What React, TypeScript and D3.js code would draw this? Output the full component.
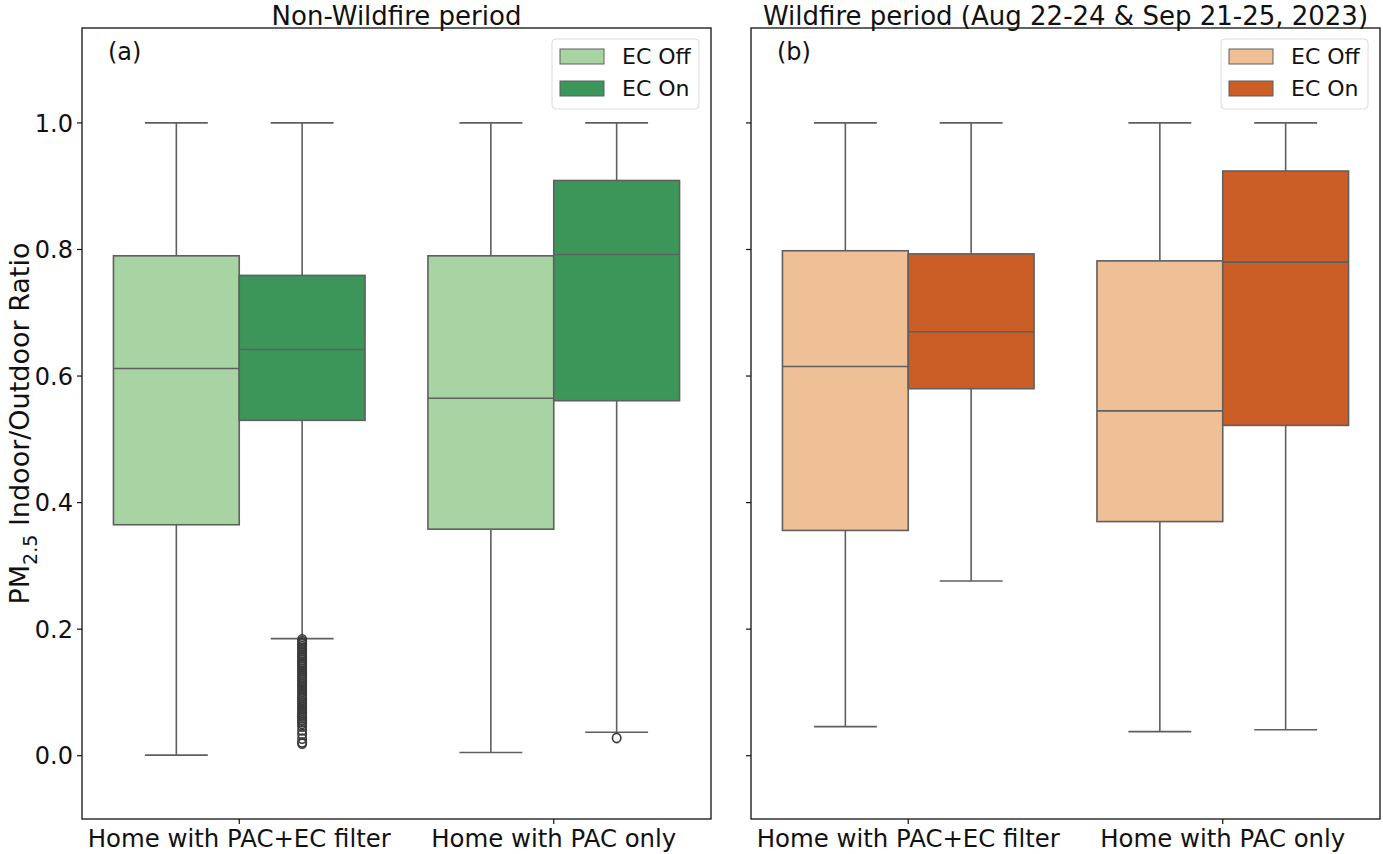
import React from "react";
import * as d3 from "d3";

// groups on the x axis and the two hue levels
const categories = ["Home with PAC+EC filter", "Home with PAC only"];
const hues = ["EC Off", "EC On"];

// box stats per category: [lower whisker, q1, median, q3, upper whisker]
const nonWildfireOff = [
  [0.001, 0.365, 0.612, 0.79, 1.0],
  [0.005, 0.358, 0.565, 0.79, 1.0],
];
const nonWildfireOn = [
  [0.185, 0.53, 0.642, 0.759, 1.0],
  [0.037, 0.561, 0.792, 0.909, 1.0],
];
const wildfireOff = [
  [0.046, 0.356, 0.615, 0.798, 1.0],
  [0.038, 0.37, 0.545, 0.782, 1.0],
];
const wildfireOn = [
  [0.276, 0.58, 0.67, 0.793, 1.0],
  [0.041, 0.522, 0.78, 0.924, 1.0],
];

// fliers (only the non-wildfire EC On boxes have them)
const nonWildfireOnFliers = [
  [
    0.184, 0.181, 0.178, 0.176, 0.173, 0.17, 0.168, 0.165, 0.162, 0.159, 0.157,
    0.154, 0.151, 0.148, 0.146, 0.143, 0.14, 0.137, 0.134, 0.131, 0.128, 0.125,
    0.122, 0.119, 0.116, 0.113, 0.11, 0.107, 0.104, 0.101, 0.098, 0.095, 0.092,
    0.089, 0.086, 0.083, 0.08, 0.077, 0.074, 0.071, 0.068, 0.065, 0.062, 0.059,
    0.056, 0.053, 0.05, 0.046, 0.04, 0.034, 0.027, 0.021, 0.019,
  ],
  [0.028],
];

const yTicks = [0.0, 0.2, 0.4, 0.6, 0.8, 1.0];

const greens = ["#a8d4a3", "#3d9659"];
const oranges = ["#efc095", "#cb5e27"];

const FONT = "DejaVu Sans, sans-serif";
const LINE = "#5f5f5f";

const top = 28;
const bottom = 819;

const y = d3.scaleLinear().domain([-0.1, 1.15]).range([bottom, top]);

type PanelProps = {
  x0: number;
  x1: number;
  title: string;
  tag: string;
  off: number[][];
  on: number[][];
  fliers: number[][];
  colors: string[];
  showYLabels: boolean;
};

const Panel = ({ x0, x1, title, tag, off, on, fliers, colors, showYLabels }: PanelProps) => {
  const x = d3.scaleBand().domain(categories).range([x0, x1]);
  const inner = d3
    .scaleBand()
    .domain(hues)
    .range([0, x.bandwidth() * 0.8]);
  const boxW = inner.bandwidth();

  const series = [off, on];

  return (
    <g>
      {series.map((stats, hi) =>
        categories.map((c, ci) => {
          const [lo, q1, med, q3, hiW] = stats[ci];
          const bx = x(c)! + x.bandwidth() * 0.1 + inner(hues[hi])!;
          const cx = bx + boxW / 2;
          const capW = boxW / 2;
          const fl = hi === 1 ? fliers[ci] : [];
          return (
            <g key={`${hi}-${ci}`}>
              <line x1={cx} x2={cx} y1={y(q3)} y2={y(hiW)} stroke={LINE} strokeWidth={1.6} />
              <line x1={cx} x2={cx} y1={y(q1)} y2={y(lo)} stroke={LINE} strokeWidth={1.6} />
              <line x1={cx - capW / 2} x2={cx + capW / 2} y1={y(hiW)} y2={y(hiW)} stroke={LINE} strokeWidth={1.6} />
              <line x1={cx - capW / 2} x2={cx + capW / 2} y1={y(lo)} y2={y(lo)} stroke={LINE} strokeWidth={1.6} />
              <rect
                x={bx}
                y={y(q3)}
                width={boxW}
                height={y(q1) - y(q3)}
                fill={colors[hi]}
                stroke={LINE}
                strokeWidth={1.6}
              />
              <line x1={bx} x2={bx + boxW} y1={y(med)} y2={y(med)} stroke={LINE} strokeWidth={1.6} />
              {fl.map((v, i) => (
                <ellipse key={i} cx={cx} cy={y(v)} rx={4.2} ry={4.6} fill="none" stroke="#3a3a3a" strokeWidth={1.6} />
              ))}
            </g>
          );
        })
      )}

      {/* frame */}
      <rect x={x0} y={top} width={x1 - x0} height={bottom - top} fill="none" stroke="#111" strokeWidth={1.3} />

      {/* y ticks */}
      {yTicks.map((t) => (
        <g key={t}>
          <line x1={x0 - 5} x2={x0} y1={y(t)} y2={y(t)} stroke="#111" strokeWidth={1.2} />
          {showYLabels && (
            <text x={x0 - 9} y={y(t)} dy="0.36em" textAnchor="end" fontSize={24} fontFamily={FONT} fill="#111">
              {t.toFixed(1)}
            </text>
          )}
        </g>
      ))}

      {/* x ticks */}
      {categories.map((c) => {
        const cx = x(c)! + x.bandwidth() / 2;
        return (
          <g key={c}>
            <line x1={cx} x2={cx} y1={bottom} y2={bottom + 5} stroke="#111" strokeWidth={1.2} />
            <text x={cx} y={bottom + 28} textAnchor="middle" fontSize={24.4} fontFamily={FONT} fill="#111">
              {c}
            </text>
          </g>
        );
      })}

      <text x={(x0 + x1) / 2} y={24.5} textAnchor="middle" fontSize={26} fontFamily={FONT} fill="#111">
        {title}
      </text>
      <text x={x0 + 26} y={60} fontSize={24} fontFamily={FONT} fill="#111">
        {tag}
      </text>

      {/* legend */}
      <g transform={`translate(${x1 - 159},39)`}>
        <rect width={147} height={70} rx={4} fill="white" fillOpacity={0.8} stroke="#dcdcdc" strokeWidth={1} />
        {hues.map((h, i) => (
          <g key={h} transform={`translate(0,${i * 32})`}>
            <rect x={8} y={10} width={44} height={15} fill={colors[i]} stroke={LINE} strokeWidth={1} />
            <text x={70} y={25} fontSize={22} fontFamily={FONT} fill="#111">
              {h}
            </text>
          </g>
        ))}
      </g>
    </g>
  );
};

export default function App() {
  return (
    <svg
      width={1383}
      height={854}
      style={{ position: "absolute", left: 0, top: 0, background: "white" }}
    >
      <rect width={1383} height={854} fill="white" />
      <Panel
        x0={82}
        x1={711}
        title="Non-Wildfire period"
        tag="(a)"
        off={nonWildfireOff}
        on={nonWildfireOn}
        fliers={nonWildfireOnFliers}
        colors={greens}
        showYLabels={true}
      />
      <Panel
        x0={751}
        x1={1380}
        title="Wildfire period (Aug 22-24 & Sep 21-25, 2023)"
        tag="(b)"
        off={wildfireOff}
        on={wildfireOn}
        fliers={[[], []]}
        colors={oranges}
        showYLabels={false}
      />
      <text
        transform={`translate(29,${(top + bottom) / 2}) rotate(-90)`}
        textAnchor="middle"
        fontSize={27}
        fontFamily={FONT}
        fill="#111"
      >
        PM
        <tspan fontSize={19} dy={8}>
          2.5
        </tspan>
        <tspan dy={-8}> Indoor/Outdoor Ratio</tspan>
      </text>
    </svg>
  );
}
